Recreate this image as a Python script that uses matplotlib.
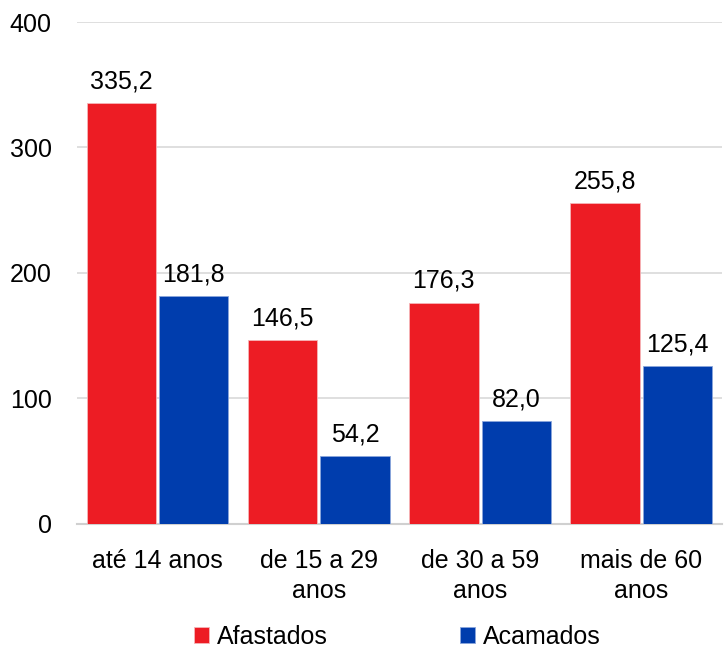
import matplotlib
matplotlib.use("Agg")
import matplotlib.pyplot as plt
from matplotlib import font_manager
import numpy as np

categories = ["até 14 anos", "de 15 a 29\nanos", "de 30 a 59\nanos", "mais de 60\nanos"]
afastados = [335.2, 146.5, 176.3, 255.8]
acamados = [181.8, 54.2, 82.0, 125.4]
series_names = ["Afastados", "Acamados"]
y_ticks = [0, 100, 200, 300, 400]

available = {f.name for f in font_manager.fontManager.ttflist}
family = "Liberation Sans Narrow" if "Liberation Sans Narrow" in available else "Liberation Sans"
plt.rcParams["font.family"] = [family, "DejaVu Sans"]

red = "#ED1C24"
blue = "#003DAD"

fig = plt.figure(figsize=(7.25, 6.49), dpi=100)
ax = fig.add_axes([0.106, 0.193, 0.89, 0.773])

x = np.arange(len(categories))
w = 0.43
off = 0.225
b1 = ax.bar(x - off, afastados, w, color=red, edgecolor="#f5b5b8", linewidth=0.6,
            label=series_names[0], zorder=3)
b2 = ax.bar(x + off, acamados, w, color=blue, edgecolor="#8aa6dc", linewidth=0.6,
            label=series_names[1], zorder=3)

fs = 18
for bars, vals in ((b1, afastados), (b2, acamados)):
    for rect, v in zip(bars, vals):
        ax.annotate(f"{v:.1f}".replace(".", ","),
                    (rect.get_x() + rect.get_width() / 2, v),
                    xytext=(0, 7), textcoords="offset points",
                    ha="center", va="bottom", fontsize=fs, color="black")

ax.set_xlim(-0.5, len(categories) - 0.5)
ax.set_ylim(0, 400)
ax.set_yticks(y_ticks)
ax.set_yticklabels([str(t) for t in y_ticks], fontsize=fs)
ax.set_xticks(x)
ax.set_xticklabels(categories, fontsize=fs, linespacing=1.35)
ax.tick_params(axis="y", length=0, pad=18)
ax.tick_params(axis="x", length=0, pad=18)

ax.grid(axis="y", color="#d9d9d9", linewidth=1.2, zorder=0)
for s in ("left", "right", "top"):
    ax.spines[s].set_visible(False)
ax.spines["bottom"].set_color("#d0d0d0")
ax.spines["bottom"].set_linewidth(1.5)

fig.legend(handles=[b1, b2], labels=series_names, loc="center",
           bbox_to_anchor=(0.548, 0.019), ncol=2, frameon=False, fontsize=fs,
           handlelength=0.6, handleheight=0.6, handletextpad=0.3, columnspacing=5.3)

fig.savefig("out.png", dpi=100)
